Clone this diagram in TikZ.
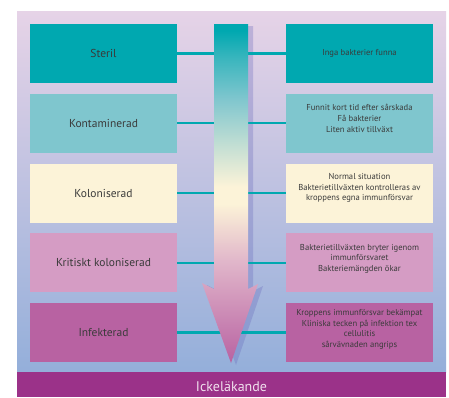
\documentclass[tikz,border=0pt]{standalone}
\usepackage{fontspec}
\setmainfont{PT Sans}
\usetikzlibrary{positioning}

\definecolor{woundteal}{HTML}{00A8B0}
\definecolor{lightteal}{HTML}{7FC6CE}
\definecolor{creamy}{HTML}{FCF3D8}
\definecolor{pinky}{HTML}{D59CC4}
\definecolor{magent}{HTML}{B862A2}
\definecolor{barpurple}{HTML}{9B3289}
\definecolor{bgtop}{HTML}{E6D3E7}
\definecolor{bgbottom}{HTML}{94AFDA}
\definecolor{inktext}{HTML}{3A3A3A}

\pgfdeclareverticalshading{woundfade}{100bp}{color(0bp)=(magent); color(25bp)=(magent);
  color(40bp)=(pinky!70!creamy); color(48.5bp)=(creamy); color(51bp)=(creamy);
  color(57bp)=(lightteal!45!creamy); color(64bp)=(lightteal); color(70bp)=(woundteal!55!lightteal);
  color(74bp)=(woundteal); color(100bp)=(woundteal)}

\begin{document}
\begin{tikzpicture}[x=1pt,y=-1pt,node distance=10.75pt,
	stage/.style={minimum width=147pt,minimum height=59pt,inner sep=0pt,outer sep=0pt,
		text=inktext,font=\fontsize{11.5}{13}\selectfont},
	note/.style={align=center,inner sep=0pt,text=inktext,font=\fontsize{8.6}{10.7}\selectfont},
	link/.style={draw=woundteal,line width=2.2pt}]
	\useasboundingbox[fill=white] (0,0) rectangle (449,397);
	% background
	\shade[top color=bgtop,bottom color=bgbottom] (17,11) rectangle (446,372);
	\fill[barpurple] (17,372) rectangle (446,397);
	\node[text=white!85!barpurple,font=\fontsize{14}{16}\selectfont] (ickel) at (231.5,387) {Ickeläkande};
	% stages
	\node[stage,fill=woundteal,anchor=north west] (steril) at (30,24) {Steril};
	\node[stage,fill=lightteal] (kontam) [below=of steril] {Kontaminerad};
	\node[stage,fill=creamy] (kolon) [below=of kontam] {Koloniserad};
	\node[stage,fill=pinky] (krit) [below=of kolon] {Kritiskt koloniserad};
	\node[stage,fill=magent] (infek) [below=of krit] {Infekterad};
	% descriptions
	\node[stage,fill=woundteal] (steril-r) [right=109pt of steril] {};
	\node[stage,fill=lightteal] (kontam-r) [right=109pt of kontam] {};
	\node[stage,fill=creamy] (kolon-r) [right=109pt of kolon] {};
	\node[stage,fill=pinky] (krit-r) [right=109pt of krit] {};
	\node[stage,fill=magent] (infek-r) [right=109pt of infek] {};
	\node[note] (steril-t) at (steril-r.center) {Inga bakterier funna};
	\node[note] (kontam-t) at ([yshift=5pt]kontam-r.center) {Funnit kort tid efter sårskada\\Få bakterier\\Liten aktiv tillväxt};
	\node[note] (kolon-t) at ([yshift=5pt]kolon-r.center) {Normal situation\\Bakterietillväxten kontrolleras av\\kroppens egna immunförsvar};
	\node[note] (krit-t) at ([yshift=4pt]krit-r.center) {Bakterietillväxten bryter igenom\\immunförsvaret\\Bakteriemängden ökar};
	\node[note] (infek-t) at ([yshift=3pt]infek-r.center) {Kroppens immunförsvar bekämpat\\Kliniska tecken på infektion tex\\cellulitis\\sårvävnaden angrips};
	% arrow shadow
	\fill[black!45!blue!60,opacity=0.3] (219,26) -- (253,26) -- (253,291) -- (263,286) -- (236,365) -- (207,285) -- (219,291) -- cycle;
	\foreach \s in {steril,kontam,kolon,krit,infek}
		\draw[link] (\s.east) -- (\s-r.west);
	% arrow
	\shade[shading=woundfade] (214,24) -- (248,24) -- (248,289) -- (258,284) -- (231,363) -- (202,283) -- (214,289) -- cycle;
\end{tikzpicture}
\end{document}
